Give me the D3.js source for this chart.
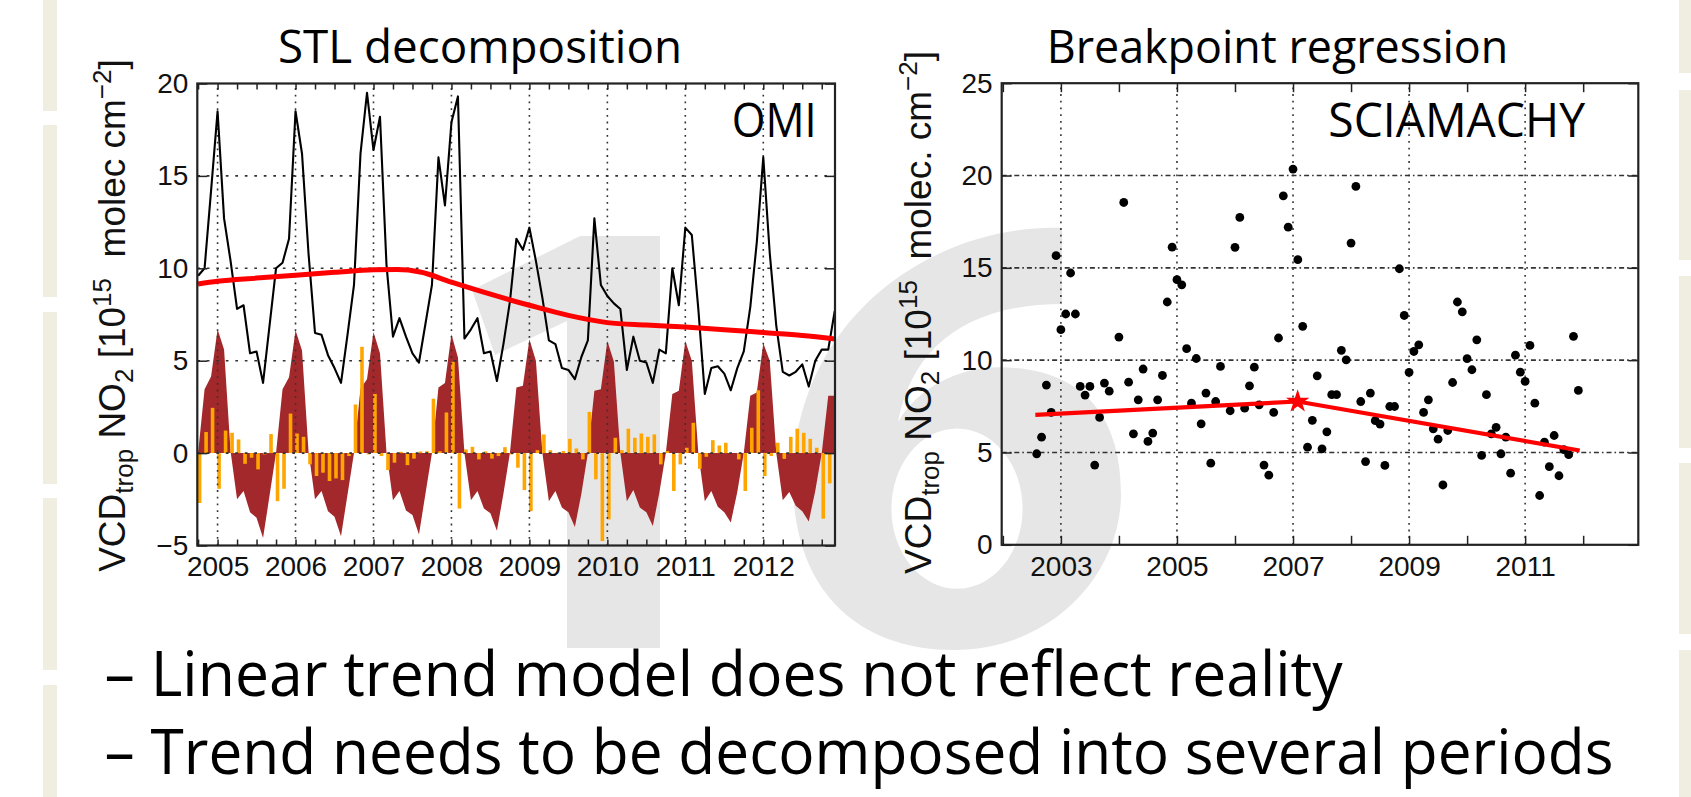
<!doctype html>
<html>
<head>
<meta charset="utf-8">
<style>
  body { margin: 0; background: #fff; }
  svg { display: block; }
  .axis .domain { display: none; }
  .axis line { stroke: #222; stroke-width: 1.5; }
  .axis text { font-family: "Liberation Sans", Arial, Helvetica, sans-serif; font-size: 28px; fill: #111; }
</style>
<script src="https://d3js.org/d3.v7.min.js"></script>
</head>
<body>
<svg width="1691" height="797"></svg>
<script>
// ---------- data: OMI monthly series, Oct 2004 .. Dec 2012 ----------
var omiFirstMonth = 2004 + 9 / 12;   // Oct 2004

var omiTotal = [
  9.6, 10.0, 14.2,
  18.5, 12.7, 10.4, 7.8, 8.0, 5.4, 5.5, 3.8, 6.9, 10.0, 10.3, 11.6,
  18.5, 16.2, 10.8, 6.5, 6.4, 5.3, 4.6, 3.8, 6.4, 9.1, 16.2, 19.5,
  16.4, 18.2, 10.2, 6.3, 7.3, 6.3, 5.4, 4.9, 7.0, 9.1, 16.0, 13.4,
  17.9, 19.3, 6.2, 6.7, 7.3, 5.4, 5.5, 3.9, 5.9, 8.2, 11.6, 11.0,
  12.2, 10.4, 8.4, 6.1, 5.9, 4.6, 4.5, 4.0, 5.2, 6.1, 12.7, 9.1,
  8.5, 8.1, 7.8, 4.5, 6.3, 5.0, 4.9, 3.8, 5.6, 5.4, 10.0, 8.0,
  12.2, 11.8, 7.8, 3.2, 4.6, 4.7, 4.3, 3.4, 4.6, 5.5, 7.9, 11.4,
  16.0, 10.8, 6.9, 4.4, 4.2, 4.4, 4.8, 3.6, 5.0, 5.6, 5.6, 7.7
];

var omiSeasonal = [
  0.0, 3.45, 4.15,
  6.7, 5.6, 0.1, -2.5, -2.05, -3.2, -3.5, -4.6, -2.3, 0.0, 3.45, 4.1,
  6.65, 5.55, 0.1, -2.5, -2.05, -3.15, -3.45, -4.5, -2.25, 0.0, 3.5, 4.0,
  6.55, 5.4, 0.05, -2.55, -2.05, -3.1, -3.35, -4.4, -2.2, 0.0, 3.55, 3.8,
  6.43, 5.17, 0.0, -2.55, -2.05, -3.0, -3.25, -4.2, -2.2, 0.0, 3.55, 3.64,
  6.16, 5.0, 0.0, -2.6, -2.05, -2.95, -3.2, -4.0, -2.2, 0.0, 3.37, 3.46,
  6.07, 4.95, 0.0, -2.6, -2.0, -2.95, -3.2, -3.95, -2.15, 0.0, 3.2, 3.37,
  6.07, 5.0, 0.0, -2.6, -2.05, -2.9, -3.2, -3.75, -2.1, 0.0, 3.1, 3.28,
  5.95, 5.0, 0.0, -2.55, -2.1, -2.85, -3.15, -3.7, -2.05, 0.0, 3.1, 3.1
];

var omiRemainder = [
  null, -2.7, 1.14,
  2.45, -1.93, 1.22, 1.1, 0.74, -0.58, -0.25, -0.88, -0.07, 1.03, -2.6, -1.93,
  2.14, 1.06, 0.88, -0.61, -1.24, -1.06, -1.51, -1.37, -1.46, -0.16, 2.63, 5.75,
  -0.07, 3.2, -0.16, -0.92, -0.52, 0.07, -0.65, -0.3, 0.09, 0.1, 2.94, 0.1,
  2.2, 4.94, -3.0, 0.2, 0.34, -0.34, 0.09, -0.3, -0.16, 0.32, -0.07, -0.79,
  -2.0, -3.14, 0.16, 1.01, 0.16, 0.02, 0.11, 0.77, 0.25, -0.34, 2.23, -1.42,
  -4.76, -3.59, 0.83, 0.16, 1.32, 0.83, 1.06, 0.88, 1.01, -0.61, 0.11, -2.05,
  -0.61, 0.29, 1.64, -0.85, -0.2, 0.7, 0.41, 0.56, 0.0, -0.34, -2.05, 1.37,
  3.4, -1.24, -0.16, 0.56, -0.31, 0.88, 1.32, 1.1, 0.77, 0.29, -3.55, -1.64
];

var omiTrendYears  = [2004.75, 2005.0, 2005.5, 2006.0, 2006.5, 2007.0, 2007.3, 2007.6, 2008.0, 2008.5,
                      2009.0, 2009.5, 2010.0, 2010.5, 2011.0, 2011.5, 2012.0, 2012.5, 2012.92];
var omiTrendValues = [9.15, 9.3, 9.47, 9.63, 9.78, 9.92, 9.93, 9.8, 9.25, 8.6,
                      8.0, 7.45, 7.06, 6.93, 6.82, 6.68, 6.52, 6.36, 6.18];

var omiYearTicks = [2005, 2006, 2007, 2008, 2009, 2010, 2011, 2012];
var omiValueTicks = [-5, 0, 5, 10, 15, 20];
var omiGridValues = [0, 5, 10, 15];

// ---------- data: SCIAMACHY monthly scatter ----------
var sciaYears = [
  2002.583, 2002.667, 2002.75, 2002.833, 2002.917,
  2003.0, 2003.083, 2003.167, 2003.25, 2003.333, 2003.417, 2003.5, 2003.583, 2003.667, 2003.75, 2003.833,
  2004.0, 2004.083, 2004.167, 2004.25, 2004.333, 2004.417, 2004.5, 2004.583, 2004.667, 2004.75, 2004.833, 2004.917,
  2005.0, 2005.083, 2005.167, 2005.25, 2005.333, 2005.417, 2005.5, 2005.583, 2005.667, 2005.75, 2005.917,
  2006.0, 2006.083, 2006.167, 2006.25, 2006.333, 2006.417, 2006.5, 2006.583, 2006.667, 2006.75, 2006.833, 2006.917,
  2007.0, 2007.083, 2007.167, 2007.25, 2007.333, 2007.417, 2007.5, 2007.583, 2007.667, 2007.75, 2007.833, 2007.917,
  2008.0, 2008.083, 2008.167, 2008.25, 2008.333, 2008.417, 2008.5, 2008.583, 2008.667, 2008.75, 2008.833, 2008.917,
  2009.0, 2009.083, 2009.167, 2009.25, 2009.333, 2009.417, 2009.5, 2009.583, 2009.667, 2009.75, 2009.833, 2009.917,
  2010.0, 2010.083, 2010.167, 2010.25, 2010.333, 2010.417, 2010.5, 2010.583, 2010.667, 2010.75, 2010.833, 2010.917,
  2011.0, 2011.083, 2011.167, 2011.25, 2011.333, 2011.417, 2011.5, 2011.583, 2011.667, 2011.75, 2011.833, 2011.917
];
var sciaValues = [
  4.93, 5.83, 8.65, 7.17, 15.66,
  11.65, 12.5, 14.72, 12.5, 8.58, 8.11, 8.58, 4.32, 6.9, 8.76, 8.32,
  11.25, 18.54, 8.81, 6.01, 7.85, 9.52, 5.6, 6.05, 7.85, 9.17, 13.15, 16.12,
  14.36, 14.08, 10.62, 7.67, 10.09, 6.55, 8.22, 4.42, 7.76, 9.66, 7.26,
  16.11, 17.73, 7.4, 8.61, 9.62, 7.58, 4.32, 3.77, 7.17, 11.2, 18.9, 17.2,
  20.35, 15.44, 11.83, 5.29, 6.74, 9.15, 5.2, 6.12, 8.13, 8.13, 10.53, 10.02,
  16.34, 19.41, 7.76, 4.51, 8.22, 6.72, 6.54, 4.3, 7.49, 7.49, 14.95, 12.42,
  9.34, 10.47, 10.83, 7.17, 7.85, 6.28, 5.72, 3.24, 6.19, 8.79, 13.15, 12.62,
  10.08, 9.48, 11.1, 4.84, 8.13, 6.01, 6.36, 4.93, 5.83, 3.88, 10.27, 9.35,
  8.85, 10.8, 7.67, 2.67, 5.56, 4.23, 5.92, 3.74, 5.15, 4.88, 11.29, 8.36
];
var sciaTrendYears  = [2002.56, 2007.08, 2011.94];
var sciaTrendValues = [7.04, 7.76, 5.11];
var sciaBreakYear = 2007.08, sciaBreakValue = 7.76;

var sciaLabelTicks = [2003, 2005, 2007, 2009, 2011];
var sciaMinorTicks = [2002, 2004, 2006, 2008, 2010, 2012];
var sciaValueTicks = [0, 5, 10, 15, 20, 25];
var sciaGridValues = [5, 10, 15, 20];

var bullets = ["\u2013 Linear trend model does not reflect reality",
               "\u2013 Trend needs to be decomposed into several periods"];

// ---------- page ----------
var svg = d3.select("svg");
var slideFont = '"Open Sans", "Noto Sans", sans-serif';
var plotFont = '"Liberation Sans", Arial, Helvetica, sans-serif';

svg.append("rect").attr("width", 1691).attr("height", 797).attr("fill", "#fff");

// beige edge strips
[[43, 14, [[0, 111], [125, 297], [312, 484], [498, 670], [685, 797]]],
 [1679, 12, [[0, 73], [90, 260], [276, 448], [463, 634], [650, 797]]]].forEach(function (s) {
  svg.append("g").selectAll("rect").data(s[2]).join("rect")
    .attr("x", s[0]).attr("width", s[1])
    .attr("y", function (d) { return d[0]; })
    .attr("height", function (d) { return d[1] - d[0]; })
    .attr("fill", "#f0eee1");
});

// big grey "16" watermark
var wm = svg.append("g").attr("fill", "#e6e6e6");
wm.append("path").attr("d", "M472,290 L580,236 L660,236 L660,648 L567,648 L567,321 L495,355 Z");
(function () {
  var ox = 793, oy = 228, w = 328, h = 422;
  function p(u, v) { return (ox + u * w).toFixed(1) + "," + (oy + v * h).toFixed(1); }
  var d = "M" + p(0.82, 0) +
    " C" + p(0.42, -0.01) + " " + p(0.0, 0.22) + " " + p(0.0, 0.6) +
    " C" + p(0.0, 0.86) + " " + p(0.2, 1.0) + " " + p(0.49, 1.0) +
    " C" + p(0.79, 1.0) + " " + p(1.0, 0.82) + " " + p(1.0, 0.63) +
    " C" + p(1.0, 0.42) + " " + p(0.85, 0.33) + " " + p(0.63, 0.33) +
    " C" + p(0.5, 0.33) + " " + p(0.38, 0.38) + " " + p(0.32, 0.46) +
    " C" + p(0.36, 0.29) + " " + p(0.52, 0.18) + " " + p(0.82, 0.18) + " Z";
  var cx = ox + 0.5 * w, cy = oy + 0.665 * h, rx = 0.2 * w, ry = 0.19 * h;
  d += " M" + (cx - rx) + "," + cy + " a" + rx + "," + ry + " 0 1 0 " + (2 * rx) + ",0" +
       " a" + rx + "," + ry + " 0 1 0 " + (-2 * rx) + ",0 Z";
  wm.append("path").attr("d", d).attr("fill-rule", "evenodd");
})();

// ---------- helpers ----------
function gridLines(g, x, y, xs, ys, vDash, hDash) {
  g.append("g").selectAll("line").data(xs).join("line")
    .attr("x1", function (d) { return x(d); }).attr("x2", function (d) { return x(d); })
    .attr("y1", y.range()[0]).attr("y2", y.range()[1])
    .attr("stroke", "#333").attr("stroke-width", 1.6).attr("stroke-dasharray", vDash);
  g.append("g").selectAll("line").data(ys).join("line")
    .attr("y1", function (d) { return y(d); }).attr("y2", function (d) { return y(d); })
    .attr("x1", x.range()[0]).attr("x2", x.range()[1])
    .attr("stroke", "#333").attr("stroke-width", 1.6).attr("stroke-dasharray", hDash);
}

function frameAxes(g, x, y, o) {
  var x0 = x.range()[0], x1 = x.range()[1], y0 = y.range()[0], y1 = y.range()[1];
  g.append("g").attr("class", "axis").attr("transform", "translate(0," + y0 + ")")
    .call(d3.axisBottom(x).tickValues(o.xLabels).tickSize(-o.xTick).tickPadding(11).tickFormat(d3.format("d")));
  g.append("g").attr("class", "axis").attr("transform", "translate(0," + y0 + ")")
    .call(d3.axisBottom(x).tickValues(o.xMinor).tickSize(-o.xTick).tickFormat(""));
  g.append("g").attr("class", "axis").attr("transform", "translate(0," + y1 + ")")
    .call(d3.axisTop(x).tickValues(o.xLabels.concat(o.xMinor)).tickSize(-o.xTick).tickFormat(""));
  g.append("g").attr("class", "axis").attr("transform", "translate(" + x0 + ",0)")
    .call(d3.axisLeft(y).tickValues(o.yTicks).tickSize(-10).tickPadding(9));
  g.append("g").attr("class", "axis").attr("transform", "translate(" + x1 + ",0)")
    .call(d3.axisRight(y).tickValues(o.yTicks).tickSize(-10).tickFormat(""));
  g.append("rect").attr("x", x0).attr("y", y1).attr("width", x1 - x0).attr("height", y0 - y1)
    .attr("fill", "none").attr("stroke", "#222").attr("stroke-width", 2.2);
}

function yLabel(g, cx, cy, unit) {
  var t = g.append("text")
    .attr("transform", "translate(" + cx + "," + cy + ") rotate(-90)")
    .attr("text-anchor", "middle")
    .style("font-family", plotFont).style("font-size", "37px").attr("fill", "#111");
  t.append("tspan").text("VCD");
  t.append("tspan").attr("dy", 8).style("font-size", "26px").text("trop");
  t.append("tspan").attr("dy", -8).text(" NO");
  t.append("tspan").attr("dy", 8).style("font-size", "26px").text("2");
  t.append("tspan").attr("dy", -8).text(" [10");
  t.append("tspan").attr("dy", -14).style("font-size", "26px").text("15");
  t.append("tspan").attr("dy", 14).text("\u00a0 " + unit);
  t.append("tspan").attr("dy", -14).style("font-size", "26px").text("\u2212" + "2");
  t.append("tspan").attr("dy", 14).text("]");
}

function slideText(x, y, size, len, str) {
  svg.append("text").attr("x", x).attr("y", y)
    .attr("textLength", len).attr("lengthAdjust", "spacingAndGlyphs")
    .style("font-family", slideFont).style("font-size", size + "px")
    .attr("fill", "#000").text(str);
}

// ---------- left: STL decomposition ----------
var xL = d3.scaleLinear().domain([2004.74, 2012.92]).range([197.3, 835]);
var yL = d3.scaleLinear().domain([-5, 20]).range([545.5, 83.5]);
var gL = svg.append("g");

var omi = omiTotal.map(function (v, i) {
  return { t: omiFirstMonth + i / 12, total: v, seas: omiSeasonal[i], rem: omiRemainder[i] };
});

gL.append("path").datum(omi)
  .attr("fill", "#a3282b")
  .attr("d", d3.area()
    .x(function (d) { return xL(d.t); })
    .y0(yL(0))
    .y1(function (d) { return yL(d.seas); }));

gL.append("g").selectAll("rect").data(omi.filter(function (d) { return d.rem !== null; })).join("rect")
  .attr("x", function (d) { return xL(d.t) - 6.8; })
  .attr("width", 3.6)
  .attr("y", function (d) { return Math.min(yL(d.rem), yL(0)); })
  .attr("height", function (d) { return Math.abs(yL(d.rem) - yL(0)); })
  .attr("fill", "#ffa500");

gridLines(gL, xL, yL, omiYearTicks, omiGridValues, "1.8,4.9", "2.7,6.8");

gL.append("path").datum(omi)
  .attr("fill", "none").attr("stroke", "#000").attr("stroke-width", 2.1)
  .attr("stroke-linejoin", "round")
  .attr("d", d3.line().x(function (d) { return xL(d.t); }).y(function (d) { return yL(d.total); }));

gL.append("path").datum(omiTrendYears)
  .attr("fill", "none").attr("stroke", "#ff0000").attr("stroke-width", 5)
  .attr("d", d3.line().curve(d3.curveMonotoneX)
    .x(function (d) { return xL(d); })
    .y(function (d, i) { return yL(omiTrendValues[i]); }));

frameAxes(gL, xL, yL, {
  xLabels: omiYearTicks,
  xMinor: d3.range(2004.75, 2012.9, 0.25).filter(function (d) { return d % 1 !== 0; }),
  xTick: 6, yTicks: omiValueTicks
});
yLabel(gL, 125, 315.5, "molec cm");

// ---------- right: breakpoint regression ----------
var xR = d3.scaleLinear().domain([2001.98, 2012.95]).range([1001.7, 1638.3]);
var yR = d3.scaleLinear().domain([0, 25]).range([544.8, 83.2]);
var gR = svg.append("g");

gridLines(gR, xR, yR, sciaLabelTicks, sciaGridValues, "1.8,4.9", "5,3,1.6,3");

gR.append("g").selectAll("circle").data(sciaYears).join("circle")
  .attr("cx", function (d) { return xR(d); })
  .attr("cy", function (d, i) { return yR(sciaValues[i]); })
  .attr("r", 4.4).attr("fill", "#000");

gR.append("path").datum(sciaTrendYears)
  .attr("fill", "none").attr("stroke", "#ff0000").attr("stroke-width", 4.2)
  .attr("d", d3.line().x(function (d) { return xR(d); }).y(function (d, i) { return yR(sciaTrendValues[i]); }));

gR.append("path")
  .attr("transform", "translate(" + xR(sciaBreakYear) + "," + yR(sciaBreakValue) + ")")
  .attr("d", d3.symbol(d3.symbolStar, 170)())
  .attr("fill", "#ff0000");

frameAxes(gR, xR, yR, { xLabels: sciaLabelTicks, xMinor: sciaMinorTicks, xTick: 9, yTicks: sciaValueTicks });
yLabel(gR, 931, 312.5, "molec. cm");

// ---------- titles, panel names, bullets ----------
slideText(278, 63, 46, 404, "STL decomposition");
slideText(1046.7, 63, 46, 461.6, "Breakpoint regression");
slideText(731.7, 137, 47, 85, "OMI");
slideText(1328.3, 137, 47, 256.7, "SCIAMACHY");
slideText(104.6, 696, 62, 1238, bullets[0]);
slideText(104.6, 774, 62, 1509, bullets[1]);
</script>
</body>
</html>
